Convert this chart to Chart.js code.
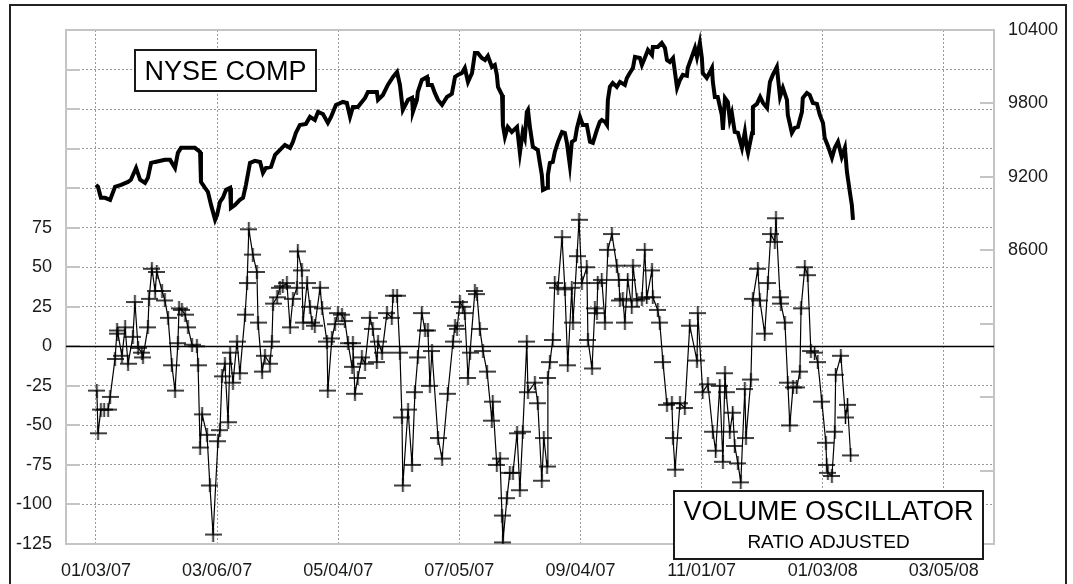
<!DOCTYPE html>
<html>
<head>
<meta charset="utf-8">
<script src="https://cdn.jsdelivr.net/npm/chart.js@4.4.1/dist/chart.umd.min.js"></script>
<style>
html, body { margin: 0; padding: 0; background: #fff; }
#wrap { position: relative; width: 1073px; height: 584px; }
</style>
</head>
<body>
<div id="wrap"><canvas id="grafico" width="1073" height="584"></canvas></div>
<script>
// Eixo do tempo: sessões de bolsa desde 01/03/07, uma etiqueta a cada 42 sessões
const etiquetasDatas = ['01/03/07', '03/06/07', '05/04/07', '07/05/07', '09/04/07', '11/01/07', '01/03/08', '03/05/08'];
const passoDatas = 42;
const limitesX = [-10.4, 311.4];

// Eixo da esquerda (oscilador) e da direita (NYSE)
const limitesOsc = [-125, 200];
const passoOsc = 25;
const maxEtiquetaOsc = 75;
const limitesNyse = [6200, 10400];
const passoNyse = 600;
const minEtiquetaNyse = 8600;

// NYSE Composite (sessão, valor)
const nyseDias = [
    0, 0.7, 1.7, 3.1, 4.9, 6.6, 8.7, 11.1, 12.1, 13.9,
    15.3, 17.0, 18.0, 19.1, 20.5, 23.9, 25.7, 27.4, 28.4, 29.5,
    34.3, 36.1, 36.4, 37.8, 38.8, 39.9, 41.3, 42.0, 43.0, 44.0,
    45.1, 46.5, 46.8, 48.2, 49.9, 51.0, 52.0, 53.4, 55.1, 56.9,
    57.9, 58.9, 60.7, 62.1, 63.8, 65.5, 67.3, 68.3, 69.3, 70.7,
    72.8, 74.2, 75.9, 77.0, 78.7, 80.4, 81.5, 83.2, 85.6, 87.0,
    88.1, 89.1, 90.8, 93.3, 94.3, 97.4, 97.8, 99.5, 101.2, 103.0,
    104.4, 105.4, 106.4, 108.2, 109.6, 109.9, 111.3, 111.6, 113.0, 114.8,
    115.1, 116.5, 117.5, 118.6, 120.0, 121.7, 123.4, 124.5, 125.5, 126.9,
    127.9, 129.0, 130.4, 131.4, 132.4, 133.8, 134.9, 135.9, 137.3, 138.3,
    139.0, 139.4, 140.8, 141.1, 141.8, 142.8, 144.2, 146.0, 147.0, 148.0,
    148.7, 149.4, 149.8, 150.5, 151.5, 153.2, 153.9, 154.6, 155.0, 156.4,
    156.7, 157.4, 158.4, 159.1, 160.2, 161.6, 162.6, 163.3, 164.3, 165.0,
    166.1, 166.8, 167.8, 168.8, 170.2, 171.3, 172.3, 173.7, 174.7, 175.4,
    176.5, 177.2, 177.5, 178.2, 179.2, 180.6, 181.7, 183.4, 184.1, 185.1,
    186.2, 186.9, 188.6, 189.3, 190.3, 191.4, 192.8, 193.1, 194.8, 196.2,
    197.3, 198.0, 199.0, 200.1, 200.8, 201.5, 202.5, 203.5, 204.9, 205.2,
    206.6, 207.7, 208.4, 209.4, 210.1, 210.4, 211.8, 212.9, 213.6, 213.9,
    214.6, 215.6, 217.0, 217.4, 218.1, 219.1, 219.8, 220.5, 221.5, 222.6,
    224.0, 225.0, 225.7, 226.1, 227.5, 227.8, 229.2, 230.3, 231.3, 232.7,
    233.1, 233.7, 234.7, 236.1, 236.5, 237.2, 238.2, 239.6, 239.9, 241.3,
    242.3, 243.4, 244.8, 245.1, 246.5, 247.5, 248.6, 250.0, 251.0, 252.1,
    252.7, 253.8, 255.2, 256.2, 257.3, 258.6, 259.7, 260.4, 261.4, 262.1,
    262.5
];
const nyseValores = [
    9135, 9118, 9029, 9029, 9012, 9118, 9135, 9159, 9176, 9273,
    9176, 9151, 9192, 9314, 9322, 9339, 9339, 9273, 9396, 9437,
    9437, 9404, 9159, 9110, 9078, 8971, 8849, 8890, 8996, 9029,
    9094, 9110, 8947, 8971, 9012, 9029, 9135, 9314, 9331, 9322,
    9233, 9273, 9282, 9380, 9420, 9461, 9437, 9486, 9559, 9624,
    9633, 9690, 9665, 9731, 9714, 9641, 9690, 9788, 9812, 9804,
    9690, 9771, 9771, 9845, 9894, 9894, 9829, 9869, 9951, 10016,
    10057, 9951, 9747, 9829, 9845, 9731, 9829, 9894, 9992, 10016,
    9951, 9951, 9886, 9829, 9788, 9853, 9878, 10016, 10033, 10049,
    10090, 9976, 10049, 10212, 10212, 10171, 10155, 10188, 10098, 10114,
    10033, 9935, 9869, 9624, 9527, 9608, 9567, 9608, 9396, 9567,
    9518, 9731, 9747, 9600, 9445, 9420, 9314, 9216, 9094, 9110,
    9216, 9314, 9322, 9404, 9486, 9567, 9559, 9478, 9298, 9486,
    9502, 9600, 9690, 9624, 9624, 9486, 9478, 9584, 9649, 9665,
    9649, 9624, 9829, 9935, 9967, 9935, 9976, 9951, 10008, 10049,
    10090, 10180, 10171, 10114, 10171, 10237, 10196, 10261, 10261, 10294,
    10253, 10155, 10139, 10171, 10049, 9927, 9992, 10033, 10025, 10090,
    10180, 10253, 10180, 10294, 10171, 10049, 10008, 10057, 10090, 9976,
    9853, 9853, 9706, 9584, 9845, 9812, 9665, 9722, 9567, 9559,
    9437, 9567, 9437, 9396, 9559, 9771, 9796, 9853, 9804, 9763,
    9853, 9976, 10033, 10098, 10008, 9853, 9927, 9829, 9706, 9559,
    9600, 9608, 9731, 9845, 9886, 9869, 9804, 9796, 9706, 9641,
    9518, 9453, 9355, 9437, 9486, 9363, 9437, 9241, 9078, 8971,
    8849
];

// Volume Oscillator (sessão, valor)
const oscDias = [
    0.3, 0.7, 1.7, 2.8, 4.2, 4.9, 6.6, 7.3, 7.6, 9.0,
    10.1, 11.1, 12.8, 13.5, 14.6, 15.9, 16.3, 18.0, 18.4, 19.4,
    20.5, 21.1, 22.9, 23.9, 25.0, 26.3, 27.4, 28.4, 28.8, 29.8,
    30.9, 31.9, 33.3, 35.0, 35.4, 36.1, 36.8, 38.5, 39.5, 40.6,
    42.3, 43.0, 43.7, 44.7, 45.8, 46.5, 47.5, 48.9, 49.9, 51.7,
    52.4, 53.0, 54.4, 55.8, 56.2, 57.6, 58.6, 60.3, 61.0, 61.4,
    62.8, 63.8, 64.8, 66.2, 67.3, 68.3, 69.7, 70.0, 71.4, 71.8,
    73.2, 74.2, 74.9, 75.9, 77.7, 78.4, 80.1, 80.4, 81.8, 82.9,
    83.9, 85.3, 86.3, 87.4, 88.8, 89.1, 89.8, 90.8, 92.2, 93.3,
    95.0, 96.0, 97.4, 97.8, 99.2, 100.9, 102.6, 103.0, 104.4, 105.4,
    106.1, 106.4, 108.2, 109.6, 110.6, 111.6, 113.0, 114.1, 115.1, 115.8,
    116.5, 118.6, 120.0, 122.0, 123.8, 124.5, 125.2, 126.2, 127.2, 127.9,
    129.0, 129.7, 131.4, 132.1, 133.1, 134.2, 135.6, 137.3, 137.6, 139.0,
    140.1, 140.8, 141.1, 142.5, 143.5, 144.6, 146.0, 147.0, 148.0, 149.4,
    149.8, 152.2, 153.2, 154.6, 155.3, 156.4, 156.7, 157.4, 158.4, 159.1,
    160.2, 161.6, 162.6, 163.6, 165.0, 165.4, 166.8, 167.5, 168.5, 170.2,
    170.6, 172.0, 173.0, 173.7, 174.0, 175.4, 176.5, 177.5, 178.9, 180.6,
    181.3, 181.7, 182.7, 183.4, 184.4, 185.8, 186.2, 187.6, 189.3, 190.3,
    191.0, 192.8, 193.1, 194.8, 195.5, 196.6, 198.0, 199.7, 200.1, 200.8,
    202.5, 204.2, 205.9, 208.4, 208.7, 210.4, 212.2, 213.9, 214.9, 216.3,
    217.4, 218.1, 218.5, 219.8, 220.8, 221.5, 222.6, 223.6, 225.0, 225.4,
    227.1, 227.8, 229.5, 230.2, 231.9, 233.0, 234.0, 235.4, 235.8, 237.2,
    237.5, 238.9, 239.9, 240.6, 241.7, 243.0, 244.1, 244.5, 245.8, 246.8,
    247.9, 249.2, 250.3, 251.7, 253.1, 253.4, 253.8, 255.2, 256.2, 256.5,
    258.3, 259.9, 260.6, 261.7
];
const oscValores = [
    -28, -55, -40, -40, -40, -32, -8, 10, 8, -6,
    12, -11, 6, 28, -1, -4, -7, 12, 30, 49,
    35, 47, 35, 29, 18, -12, -28, 2, 24, 23,
    20, 12, 1, 0, -12, -64, -43, -56, -88, -119,
    -60, -53, -19, -11, -48, -4, -23, 3, -17, 20,
    40, 74, 58, 47, 15, -16, -6, -11, 3, 27,
    31, 37, 38, 40, 12, 30, 37, 60, 48, 15,
    40, 25, 15, 13, 37, 24, 3, -28, 5, 14,
    21, 20, 16, 2, -13, 2, -30, -20, -7, -11,
    18, 11, -10, 3, -4, 21, 18, 32, 32, -4,
    -45, -88, -40, -75, -29, -7, 21, 10, 10, -25,
    -3, -58, -71, -30, 3, 13, 11, 28, 25, 21,
    -20, -4, 35, 33, 11, -3, -16, -47, -35, -75,
    -71, -107, -124, -96, -80, -80, -55, -91, -54, 3,
    -29, -23, -36, -85, -58, -76, -20, -10, 4, 40,
    37, 69, 36, -12, 37, 15, 57, 80, 40, 50,
    4, -14, 24, 21, 40, 42, 15, 61, 71, 51,
    42, 29, 30, 15, 42, 25, 51, 29, 30, 61,
    31, 48, 31, 23, 15, -10, -37, -36, -58, -78,
    -36, -39, 13, -9, 21, -29, -24, -54, -66, -25,
    -73, -17, -29, -54, -42, -63, -74, -86, -27, -58,
    -21, 30, 49, 29, 8, 40, 71, 66, 81, 31,
    27, 15, -23, -50, -26, -26, -16, 24, 50, 45,
    -3, -4, -10, -35, -61, -75, -80, -82, -54, -18,
    -6, -45, -37, -69
];

Chart.defaults.font.family = "'Liberation Sans', Arial, sans-serif";
Chart.defaults.color = '#1a1a1a';

// Marcador em cruz, mais largo do que alto
function criarCruz() {
    const c = document.createElement('canvas');
    c.width = 17;
    c.height = 14;
    const g = c.getContext('2d');
    g.strokeStyle = '#000';
    g.lineWidth = 1.5;
    g.beginPath();
    g.moveTo(0, 7); g.lineTo(17, 7);
    g.moveTo(8.5, 0); g.lineTo(8.5, 14);
    g.stroke();
    return c;
}

function caixaTexto(ctx, x, y, w, h, linhas) {
    ctx.save();
    ctx.fillStyle = '#fff';
    ctx.fillRect(x, y, w, h);
    ctx.strokeStyle = '#1a1a1a';
    ctx.lineWidth = 2;
    ctx.strokeRect(x, y, w, h);
    ctx.fillStyle = '#000';
    ctx.textAlign = 'center';
    ctx.textBaseline = 'alphabetic';
    linhas.forEach(l => {
        ctx.font = l.tam + "px 'Liberation Sans', Arial, sans-serif";
        ctx.fillText(l.texto, x + w / 2, l.base);
    });
    ctx.restore();
}

const molduraPlugin = {
    id: 'moldura',
    beforeDraw(chart) {
        const ctx = chart.ctx;
        ctx.save();
        ctx.fillStyle = '#fff';
        ctx.fillRect(0, 0, chart.width, chart.height);
        ctx.strokeStyle = '#222';
        ctx.lineWidth = 2;
        ctx.strokeRect(10, 5, 1056, 700);
        ctx.restore();
    },
    beforeDatasetsDraw(chart) {
        const { ctx, chartArea: a, scales } = chart;
        ctx.save();
        ctx.strokeStyle = '#c4c4c4';
        ctx.lineWidth = 2;
        ctx.strokeRect(a.left, a.top, a.right - a.left, a.bottom - a.top);
        ctx.beginPath();
        scales.y.ticks.forEach(t => {
            const py = Math.round(scales.y.getPixelForValue(t.value));
            ctx.moveTo(a.left, py); ctx.lineTo(a.left + 14, py);
        });
        scales.y2.ticks.forEach(t => {
            const py = Math.round(scales.y2.getPixelForValue(t.value));
            ctx.moveTo(a.right - 14, py); ctx.lineTo(a.right, py);
        });
        ctx.stroke();
        // linha do zero
        const y0 = Math.round(scales.y.getPixelForValue(0)) + 0.5;
        ctx.strokeStyle = '#000';
        ctx.lineWidth = 1.5;
        ctx.beginPath();
        ctx.moveTo(a.left, y0); ctx.lineTo(a.right, y0);
        ctx.stroke();
        ctx.restore();
    },
    afterDatasetsDraw(chart) {
        const ctx = chart.ctx;
        caixaTexto(ctx, 135, 50, 181, 41, [{ texto: 'NYSE COMP', tam: 27, base: 80 }]);
        caixaTexto(ctx, 674, 491, 309, 68, [
            { texto: 'VOLUME OSCILLATOR', tam: 27, base: 520 },
            { texto: 'RATIO ADJUSTED', tam: 19, base: 548 }
        ]);
    }
};

const grelha = { color: '#9a9a9a', lineWidth: 1, drawTicks: false };

new Chart(document.getElementById('grafico').getContext('2d'), {
    type: 'line',
    data: {
        datasets: [
            {
                label: 'NYSE COMP',
                yAxisID: 'y2',
                data: nyseDias.map((d, i) => ({ x: d, y: nyseValores[i] })),
                borderColor: '#000',
                borderWidth: 4,
                pointRadius: 0,
                tension: 0
            },
            {
                label: 'VOLUME OSCILLATOR',
                yAxisID: 'y',
                data: oscDias.map((d, i) => ({ x: d, y: oscValores[i] })),
                borderColor: '#000',
                borderWidth: 1.2,
                pointStyle: criarCruz(),
                pointRadius: 7,
                tension: 0
            }
        ]
    },
    options: {
        responsive: false,
        animation: false,
        layout: { padding: { top: 30, left: 0, right: 0, bottom: 0 } },
        plugins: { legend: { display: false }, tooltip: { enabled: false } },
        scales: {
            x: {
                type: 'linear',
                min: limitesX[0],
                max: limitesX[1],
                afterBuildTicks: s => { s.ticks = etiquetasDatas.map((t, i) => ({ value: i * passoDatas })); },
                afterFit: s => { s.height = 40; },
                ticks: { font: { size: 18 }, padding: 16, maxRotation: 0, autoSkip: false,
                    callback: (v, i) => etiquetasDatas[i] },
                grid: grelha,
                border: { display: false, dash: [2, 2] }
            },
            y: {
                position: 'left',
                min: limitesOsc[0],
                max: limitesOsc[1],
                afterFit: s => { s.width = 66; },
                ticks: { stepSize: passoOsc, font: { size: 18 }, padding: 14,
                    callback: v => (v <= maxEtiquetaOsc ? v : '') },
                grid: grelha,
                border: { display: false, dash: [2, 2] }
            },
            y2: {
                position: 'right',
                min: limitesNyse[0],
                max: limitesNyse[1],
                afterFit: s => { s.width = 79; },
                ticks: { stepSize: passoNyse, font: { size: 18 }, padding: 14,
                    callback: v => (v >= minEtiquetaNyse ? v : '') },
                grid: { drawOnChartArea: false, drawTicks: false },
                border: { display: false }
            }
        }
    },
    plugins: [molduraPlugin]
});
</script>
</body>
</html>
